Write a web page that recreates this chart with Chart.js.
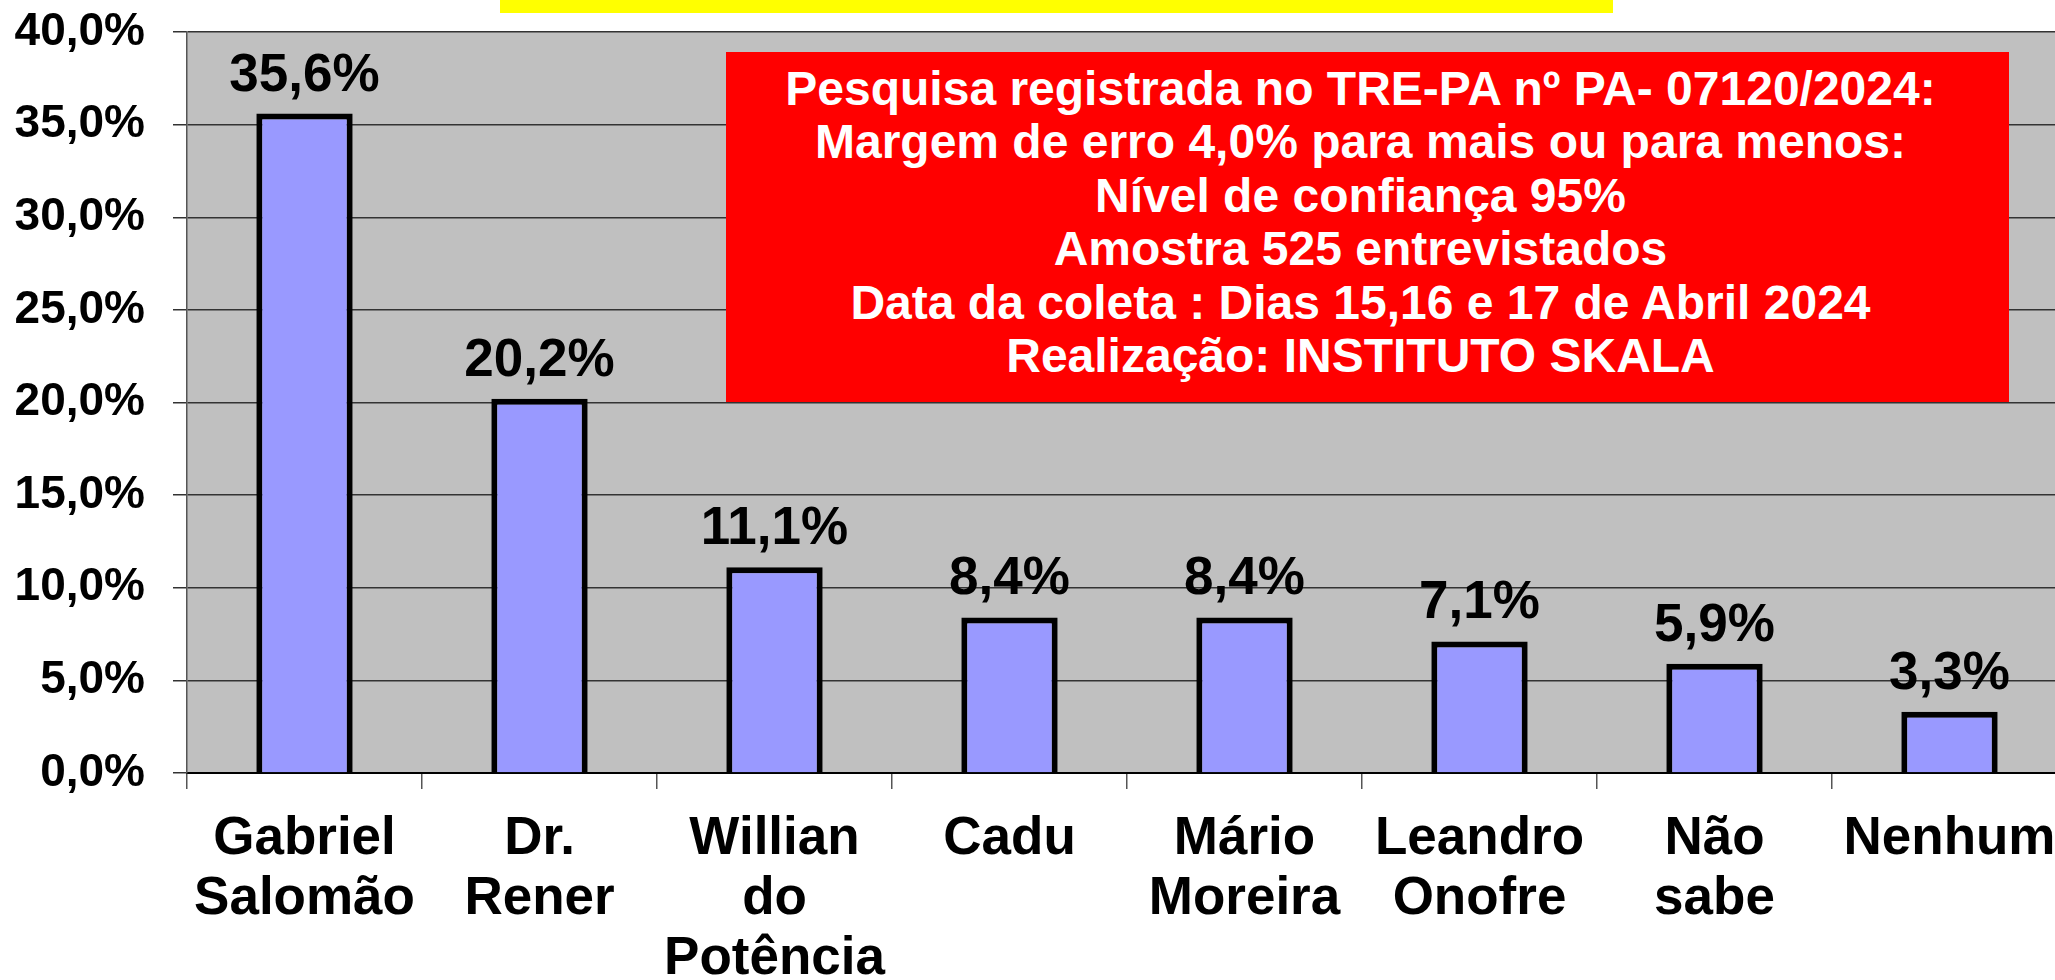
<!DOCTYPE html>
<html>
<head>
<meta charset="utf-8">
<script src="https://cdn.jsdelivr.net/npm/chart.js@4.4.1/dist/chart.umd.min.js"></script>
<style>
    html, body { margin: 0; padding: 0; background: #fff; overflow: hidden; }
    #wrap { position: relative; width: 2067px; height: 980px; }
    #titleStrip { position: absolute; left: 500px; top: 0; width: 1113px; height: 13px; background: #ffff00; }
    #infoBox {
        position: absolute; left: 726px; top: 52px; width: 1283px; height: 350px;
        box-sizing: border-box; padding-top: 10px; padding-right: 14px;
        background: #ff0000; color: #fff; text-align: center;
        font: bold 48px "Liberation Sans", Arial, sans-serif; line-height: 53.4px; white-space: nowrap;
    }
</style>
</head>
<body>
<div id="wrap">
    <canvas id="chart"></canvas>
    <div id="titleStrip"></div>
    <div id="infoBox"></div>
</div>
<script>
    "use strict";
    var FONT = '"Liberation Sans", Arial, sans-serif';

    var candidates = [['Gabriel', 'Salomão'], ['Dr.', 'Rener'], ['Willian', 'do', 'Potência'], ['Cadu'],
        ['Mário', 'Moreira'], ['Leandro', 'Onofre'], ['Não', 'sabe'], ['Nenhum']];
    var shares = [35.6, 20.2, 11.1, 8.4, 8.4, 7.1, 5.9, 3.3];
    var shareLabels = ['35,6%', '20,2%', '11,1%', '8,4%', '8,4%', '7,1%', '5,9%', '3,3%'];
    var yTickLabels = ['0,0%', '5,0%', '10,0%', '15,0%', '20,0%', '25,0%', '30,0%', '35,0%', '40,0%'];
    var infoLines = [
        'Pesquisa registrada no TRE-PA nº PA- 07120/2024:',
        'Margem de erro 4,0% para mais ou para menos:',
        'Nível de confiança 95%',
        'Amostra 525 entrevistados',
        'Data da coleta : Dias 15,16 e 17 de Abril 2024',
        'Realização: INSTITUTO SKALA'
    ];

    var box = document.getElementById('infoBox');
    infoLines.forEach(function(line) {
        var d = document.createElement('div');
        d.textContent = line;
        box.appendChild(d);
    });

    // grey plot area behind the bars
    var plotBackground = {
        id: 'plotBackground',
        beforeDraw: function(chart) {
            var a = chart.chartArea, ctx = chart.ctx;
            ctx.save();
            ctx.fillStyle = '#c0c0c0';
            ctx.fillRect(a.left, a.top, a.right - a.left, a.bottom - a.top);
            ctx.restore();
        }
    };

    // value above each bar
    var barLabels = {
        id: 'barLabels',
        afterDatasetsDraw: function(chart) {
            var ctx = chart.ctx;
            var meta = chart.getDatasetMeta(0);
            ctx.save();
            ctx.fillStyle = '#000';
            ctx.font = 'bold 53px ' + FONT;
            ctx.textAlign = 'center';
            ctx.textBaseline = 'alphabetic';
            meta.data.forEach(function(bar, i) {
                ctx.fillText(shareLabels[i], bar.x, bar.y - 23);
            });
            ctx.restore();
        }
    };

    new Chart(document.getElementById('chart').getContext('2d'), {
        type: 'bar',
        data: {
            labels: candidates,
            datasets: [{
                data: shares,
                backgroundColor: '#9999ff',
                borderColor: '#000',
                borderWidth: 6,
                barPercentage: 0.41,
                categoryPercentage: 1
            }]
        },
        options: {
            responsive: true,
            maintainAspectRatio: false,
            animation: false,
            layout: { padding: { top: 32, left: 0, right: 0, bottom: 0 } },
            plugins: { legend: { display: false }, tooltip: { enabled: false } },
            scales: {
                x: {
                    grid: { display: true, drawOnChartArea: false, drawTicks: true, tickLength: 16, color: '#555', lineWidth: 1.5, offset: true },
                    border: { display: true, color: '#000', width: 2 },
                    ticks: {
                        color: '#000', padding: 20, maxRotation: 0, minRotation: 0, autoSkip: false,
                        font: { family: FONT, size: 53, weight: 'bold', lineHeight: 1.132 }
                    },
                    afterFit: function(s) { s.height = 207; s.paddingLeft = 0; s.paddingRight = 0; }
                },
                y: {
                    min: 0, max: 40,
                    grid: { color: '#333', lineWidth: 1.5, tickLength: 14 },
                    border: { display: true, color: '#555', width: 1.5 },
                    ticks: {
                        stepSize: 5, padding: 28, color: '#000',
                        font: { family: FONT, size: 46, weight: 'bold', lineHeight: 0.6 },
                        callback: function(v) { return yTickLabels[Math.round(v / 5)]; }
                    },
                    afterFit: function(s) { s.width = 187; s.paddingTop = 0; s.paddingBottom = 0; }
                }
            }
        },
        plugins: [plotBackground, barLabels]
    });
</script>
</body>
</html>
